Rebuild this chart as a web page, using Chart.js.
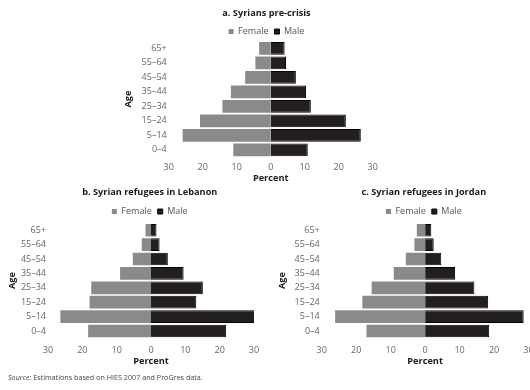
<!DOCTYPE html>
<html>
<head>
<meta charset="utf-8">
<script src="https://cdn.jsdelivr.net/npm/chart.js@4/dist/chart.umd.min.js"></script>
<style>
  html, body { margin: 0; padding: 0; background: #fff; overflow: hidden; width: 530px; height: 390px; }
  .box { position: absolute; }
  #source { position: absolute; left: 8px; top: 372px; font: 7.2px "Open Sans", sans-serif; color: #444; white-space: nowrap; }
</style>
</head>
<body>
<div class="box" style="left:120px; top:0px;"><canvas id="chartA" width="290" height="184"></canvas></div>
<div class="box" style="left:0px; top:182px;"><canvas id="chartB" width="293" height="185"></canvas></div>
<div class="box" style="left:272px; top:182px;"><canvas id="chartC" width="299" height="185"></canvas></div>
<div id="source"><i>Source:</i> Estimations based on HIES 2007 and ProGres data.</div>

<script>
// age groups, top to bottom
const ageGroups = ['65+', '55–64', '45–54', '35–44', '25–34', '15–24', '5–14', '0–4'];
const tickValues = [-30, -20, -10, 0, 10, 20, 30];

// a. Syrians pre-crisis
const preCrisisFemale = [3.4, 4.5, 7.5, 11.7, 14.2, 20.8, 25.9, 11.0];
const preCrisisMale = [4.1, 4.5, 7.4, 10.4, 11.8, 22.1, 26.5, 10.9];

// b. Syrian refugees in Lebanon
const lebanonFemale = [1.6, 2.7, 5.3, 9.0, 17.4, 17.9, 26.4, 18.3];
const lebanonMale = [1.6, 2.5, 4.9, 9.5, 15.1, 13.2, 31.6, 21.9];

// c. Syrian refugees in Jordan
const jordanFemale = [2.4, 3.1, 5.6, 9.1, 15.5, 18.2, 26.1, 17.0];
const jordanMale = [1.8, 2.5, 4.7, 8.7, 14.3, 18.3, 28.6, 18.6];

const FONT = '"Open Sans", sans-serif';

// pulls the plot up closer to the legend
const legendTrim = {
    id: 'legendTrim',
    beforeUpdate(chart, args, opts) {
        const legend = chart.legend;
        if (legend && !legend._trimmed) {
            const fit = legend.fit;
            legend.fit = function() {
                fit.call(this);
                this.height -= opts.trim || 0;
            };
            legend._trimmed = true;
        }
    }
};

// lay: padLeft before "Age", yWidth of left axis box, rightWidth of empty box on the right
function pyramid(id, title, female, male, lay) {
    const ctx = document.getElementById(id).getContext('2d');
    return new Chart(ctx, {
        type: 'bar',
        data: {
            labels: ageGroups,
            datasets: [{
                label: 'Female',
                data: female.map(v => -v),
                backgroundColor: '#8a8a8a',
                borderColor: '#8a8a8a',
                borderWidth: 0,
                barPercentage: 0.88,
                categoryPercentage: 1
            }, {
                label: 'Male',
                data: male,
                backgroundColor: '#231f20',
                borderColor: '#000',
                borderWidth: 1,
                barPercentage: 0.88,
                categoryPercentage: 1
            }]
        },
        plugins: [legendTrim],
        options: {
            indexAxis: 'y',
            responsive: false,
            animation: false,
            layout: { padding: { left: lay.padLeft, right: 0, top: 0, bottom: 0 } },
            plugins: {
                legendTrim: { trim: lay.trim },
                title: {
                    display: true,
                    text: title,
                    color: '#1a1a1a',
                    font: { family: FONT, size: 9.2, weight: 'bold' },
                    padding: { top: lay.titleTop, bottom: lay.titleBottom }
                },
                legend: {
                    display: true,
                    labels: {
                        color: '#555',
                        font: { family: FONT, size: 9 },
                        boxWidth: 5,
                        boxHeight: 5,
                        padding: 6
                    }
                },
                tooltip: { enabled: false }
            },
            scales: {
                x: {
                    stacked: true,
                    min: -30,
                    max: 30,
                    afterBuildTicks: (scale) => { scale.ticks = tickValues.map(v => ({ value: v })); },
                    grid: { display: false, tickLength: lay.tickLen },
                    border: { display: false },
                    ticks: {
                        color: '#666',
                        font: { family: FONT, size: 9 },
                        padding: 0,
                        maxRotation: 0,
                        callback: (v) => Math.abs(v)
                    },
                    title: {
                        display: true,
                        text: 'Percent',
                        color: '#1a1a1a',
                        font: { family: FONT, size: 9.2, weight: 'bold' },
                        padding: { top: 0, bottom: 0 }
                    }
                },
                y: {
                    stacked: true,
                    grid: { display: false, drawTicks: false },
                    border: { display: false },
                    afterFit: (scale) => { scale.width = lay.yWidth; },
                    ticks: {
                        color: '#666',
                        font: { family: FONT, size: 9 },
                        padding: 2
                    },
                    title: {
                        display: true,
                        text: 'Age',
                        color: '#1a1a1a',
                        font: { family: FONT, size: 9.2, weight: 'bold' },
                        padding: 0
                    }
                },
                spacer: {
                    type: 'linear',
                    position: 'right',
                    display: true,
                    grid: { display: false },
                    border: { display: false },
                    ticks: { display: false },
                    afterFit: (scale) => { scale.width = lay.rightWidth; }
                }
            }
        }
    });
}

window.onload = function() {
    pyramid('chartA', 'a. Syrians pre-crisis', preCrisisFemale, preCrisisMale,
        { padLeft: 3, yWidth: 45.7, rightWidth: 37.3, tickLen: 5, titleTop: 8, titleBottom: 2, trim: 5 });
    pyramid('chartB', 'b. Syrian refugees in Lebanon', lebanonFemale, lebanonMale,
        { padLeft: 6.5, yWidth: 41.5, rightWidth: 39, tickLen: 7, titleTop: 4.5, titleBottom: 3.5, trim: 3 });
    pyramid('chartC', 'c. Syrian refugees in Jordan', jordanFemale, jordanMale,
        { padLeft: 4.7, yWidth: 45, rightWidth: 42.5, tickLen: 7, titleTop: 4.5, titleBottom: 3.5, trim: 3 });
};
</script>
</body>
</html>
